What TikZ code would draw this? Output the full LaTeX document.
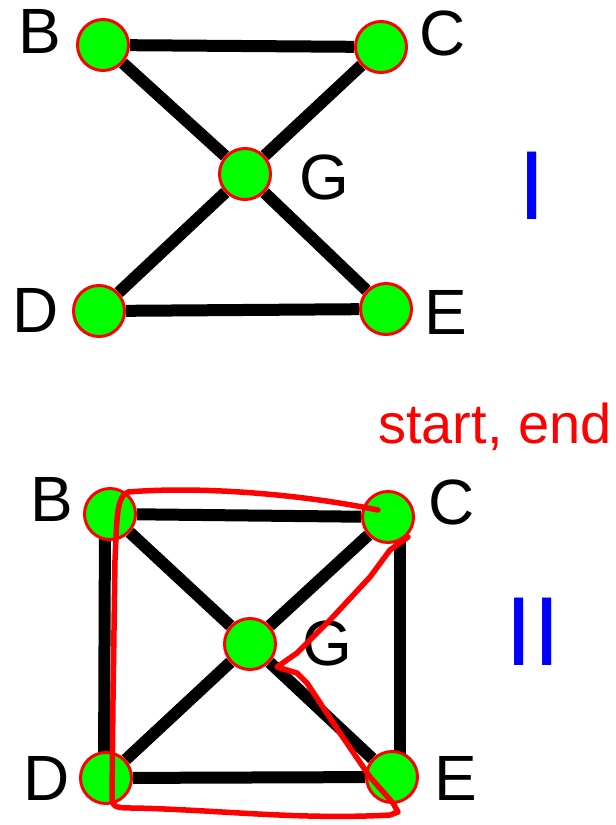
\documentclass[tikz,border=0pt]{standalone}
\usepackage{fontspec}
\setmainfont{Liberation Sans}
\usetikzlibrary{positioning, backgrounds}

\begin{document}
\begin{tikzpicture}[
        x=1pt, y=-1pt,
        vertex_node/.style={circle, draw=red, fill=green, line width=3pt, minimum size=51pt, inner sep=0pt},
        name_node/.style={inner sep=0pt, font=\fontsize{64}{64}\selectfont},
        numeral_node/.style={inner sep=0pt, text=blue, font=\fontsize{98}{98}\selectfont},
        note_node/.style={inner sep=0pt, text=red, font=\fontsize{56}{56}\selectfont},
        edge_line/.style={line width=12pt, draw=black},
        pen_line/.style={draw=red, line width=5.5pt, line cap=round, line join=round}
    ]
        \useasboundingbox (0,0) rectangle (616,825);

        % Graph I
        \node (B1) [vertex_node] at (103,45) {};
        \node (C1) [vertex_node] at (381,47) {};
        \node (G1) [vertex_node] at (245,174) {};
        \node (D1) [vertex_node] at (99,311) {};
        \node (E1) [vertex_node] at (386,309) {};
        \node (lB1) [name_node] at (40,31) {B};
        \node (lC1) [name_node] at (443,33) {C};
        \node (lG1) [name_node] at (324,177) {G};
        \node (lD1) [name_node] at (36,310) {D};
        \node (lE1) [name_node] at (446,312) {E};
        \node (num1) [numeral_node] at (532,186) {I};

        % Graph II
        \node (B2) [vertex_node] at (110,514) {};
        \node (C2) [vertex_node] at (388,517) {};
        \node (G2) [vertex_node] at (250,644) {};
        \node (D2) [vertex_node] at (106,778) {};
        \node (E2) [vertex_node] at (392,777) {};
        \node (lB2) [name_node] at (52,499) {B};
        \node (lC2) [name_node] at (452,502) {C};
        \node (lG2) [name_node] at (327,643) {G};
        \node (lD2) [name_node] at (47,778) {D};
        \node (lE2) [name_node] at (456,778) {E};
        \node (num2) [numeral_node] at (533,632) {II};

        % Edges
        \begin{scope}[on background layer]
            \draw [edge_line] (B1) -- (C1);
            \draw [edge_line] (B1) -- (G1);
            \draw [edge_line] (C1) -- (G1);
            \draw [edge_line] (G1) -- (D1);
            \draw [edge_line] (G1) -- (E1);
            \draw [edge_line] (D1) -- (E1);

            \draw [edge_line] (B2) -- (C2);
            \draw [edge_line] ([xshift=-5]B2.center) -- ([xshift=-2]D2.center);
            \draw [edge_line] ([xshift=12]C2.center) -- ([xshift=8]E2.center);
            \draw [edge_line] (D2) -- (E2);
            \draw [edge_line] (B2) -- (G2);
            \draw [edge_line] (G2) -- (E2);
            \draw [edge_line] (C2) -- (G2);
            \draw [edge_line] (G2) -- (D2);
        \end{scope}

        % Pen marks
        \node (note) [note_node, anchor=base west] at (378,443) {start, end};
        \draw [pen_line] (378,510) .. controls (300,494) and (200,486) .. (128,492)
            .. controls (116,497) and (117,520) .. (115,560)
            -- (113,700) -- (112,798) .. controls (112,808) and (118,808) .. (135,808)
            .. controls (220,810) and (300,820) .. (390,815) -- (398,812) -- (393,803)
            -- (370,777) -- (340,733) -- (307,683) -- (297,673) -- (277,667)
            -- (297,653) -- (330,620) -- (370,577) -- (390,550) -- (408,537);
    \end{tikzpicture}
\end{document}
